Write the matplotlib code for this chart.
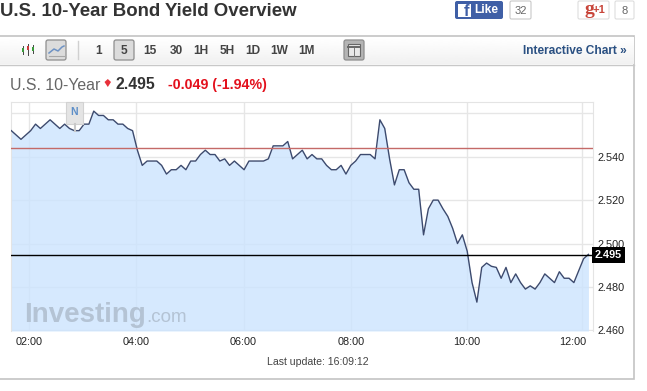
import numpy as np
import matplotlib
matplotlib.use('Agg')
import matplotlib.pyplot as plt
from matplotlib.patches import Rectangle, FancyBboxPatch, Polygon
from matplotlib.transforms import ScaledTranslation, blended_transform_factory

plt.rcParams['font.family'] = ['Liberation Sans', 'DejaVu Sans']

yields = [
    2.552,2.550,2.548,2.550,2.552,2.555,2.553,2.555,2.557,2.555,2.553,2.555,2.553,2.552,2.552,2.555,2.555,
    2.561,2.559,2.559,2.557,2.557,2.555,2.555,2.553,2.552,2.543,2.536,2.538,2.538,2.538,2.536,2.532,2.534,
    2.534,2.536,2.534,2.538,2.538,2.541,2.543,2.541,2.541,2.538,
    2.539,2.536,2.538,2.536,2.534,2.538,2.538,2.538,2.538,2.539,2.545,2.545,2.545,2.547,2.539,2.541,2.543,
    2.539,2.541,2.539,2.539,2.536,2.534,2.534,2.536,2.532,2.536,2.538,2.541,2.541,2.541,2.539,2.557,2.553,
    2.539,2.527,2.534,2.534,2.528,2.525,2.525,
    2.504,2.516,2.520,2.520,2.516,2.5125,2.507,2.500,2.504,2.4965,2.482,2.473,2.489,2.491,2.4895,2.489,
    2.484,2.489,2.482,2.486,2.482,2.479,2.4805,2.479,2.482,2.486,2.484,2.482,2.487,2.484,2.484,2.482,
    2.4875,2.493,2.495,
]
time_labels = ['02:00','04:00','06:00','08:00','10:00','12:00']
time_ticks = [3.7,25.8,47.9,70.0,94.0,117.7]
yield_ticks = [2.46,2.48,2.50,2.52,2.54,2.56]
yield_tick_labels = ['2.460','2.480','2.500','2.520','2.540','']
previous_close = 2.544
last_price = 2.4945
last_label = '2.495'
W,H = 647,391
fig = plt.figure(figsize=(W/100,H/100),dpi=100,facecolor='white')

# page chrome in pixel coordinates
bg = fig.add_axes([0,0,1,1]); bg.set_xlim(0,W); bg.set_ylim(H,0); bg.axis('off')
bg.add_patch(Rectangle((-2,36),636,342.5,fc='white',ec='#c4c4c4',lw=1.2))
grad = np.linspace(1,0.945,30).reshape(-1,1)
bg.imshow(grad,extent=(0,634,64,37),cmap='gray',vmin=0,vmax=1,aspect='auto',zorder=1)
bg.set_xlim(0,W); bg.set_ylim(H,0)
bg.plot([0,634],[64.5,64.5],color='#c8c8c8',lw=1,zorder=2)
bg.text(0,11,'U.S. 10-Year Bond Yield Overview',fontsize=13.4,fontweight='bold',color='#333333',va='center',ha='left')
# toolbar
for x,y0,y1,c in [(23,46,54,'#3a9a3a'),(28,44,55,'#c93a3a'),(33,45,53,'#3a9a3a')]:
    bg.plot([x,x],[y0,y1],color='#444444',lw=0.7,zorder=3)
    bg.add_patch(Rectangle((x-1.2,y0+2),2.4,4,fc=c,ec='none',zorder=4))
def button(x,y,w,h,fc='#dcdcdc'):
    bg.add_patch(FancyBboxPatch((x+1,y+1),w-2,h-2,boxstyle='round,pad=1,rounding_size=2',fc=fc,ec='#8e8e8e',lw=0.9,zorder=3))
button(46,40,20,20)
bg.plot([49,54,58,62,64],[53,49,51,47,46],color='#6f93c4',lw=1.1,zorder=4)
bg.plot([49,64],[56,56],color='#a8a8a8',lw=0.8,zorder=4)
bg.plot([77.5,77.5],[41,59],color='#d0d0d0',lw=1,zorder=3)
button(114,40,20,20)
for s,x in zip(['1','5','15','30','1H','5H','1D','1W','1M'],[99,124,150,176,201,227,253,279,306]):
    bg.text(x,51,s,fontsize=8.6,fontweight='bold',color='#444444',ha='center',va='center',zorder=5)
button(344,40,20,20,'#b4b4b4')
bg.add_patch(Rectangle((348,44),12,12,fc='#e8e8e8',ec='#666666',lw=0.8,zorder=4))
bg.plot([348,360],[47,47],color='#666666',lw=1.4,zorder=5)
bg.plot([354,354],[48,56],color='#777777',lw=0.7,zorder=5)
bg.text(627,51,'Interactive Chart »',fontsize=8.6,fontweight='bold',color='#2a5082',ha='right',va='center',zorder=5)
# social buttons
bg.add_patch(FancyBboxPatch((455,1),48,18,boxstyle='round,pad=0,rounding_size=2',fc='#3f5fa6',ec='none'))
bg.add_patch(Rectangle((458,4),13,13,fc='white',ec='none'))
bg.text(466,11.5,'f',fontsize=12,fontweight='bold',color='#3f5fa6',ha='center',va='center')
bg.text(474,10,'Like',fontsize=8.6,fontweight='bold',color='white',ha='left',va='center')
bg.add_patch(FancyBboxPatch((510,1),21,18,boxstyle='round,pad=0,rounding_size=1.5',fc='white',ec='#c8c8c8',lw=0.8))
bg.text(521,10.5,'32',fontsize=8,color='#666666',ha='center',va='center')
bg.add_patch(FancyBboxPatch((578,1),31,18,boxstyle='round,pad=0,rounding_size=1.5',fc='white',ec='#dddddd',lw=0.8))
bg.text(589,10,'g',fontsize=14,fontweight='bold',color='#c8453a',ha='center',va='center',family='Liberation Serif')
bg.text(599,10,'+1',fontsize=8,fontweight='bold',color='#c8453a',ha='center',va='center')
bg.add_patch(FancyBboxPatch((615,1),19,18,boxstyle='round,pad=0,rounding_size=1.5',fc='white',ec='#dddddd',lw=0.8))
bg.text(625,11,'8',fontsize=8,color='#666666',ha='center',va='center')
# quote line
bg.text(10,85,'U.S. 10-Year',fontsize=11.4,color='#666666',ha='left',va='center')
bg.add_patch(Polygon([[104.5,82],[107.8,79],[111,82],[107.8,87]],fc='#e8303a',ec='none'))
bg.text(115,84.5,'2.495',fontsize=11.4,fontweight='bold',color='#333333',ha='left',va='center')
bg.text(168,85,'-0.049 (-1.94%)',fontsize=10.2,fontweight='bold',color='#e3101c',ha='left',va='center')
bg.text(318,362,'Last update: 16:09:12',fontsize=7.6,color='#444444',ha='center',va='center')

# chart
L,R,T,B = 11,593,102,331
ax = fig.add_axes([L/W,(H-B)/H,(R-L)/W,(B-T)/H])
ax.patch.set_alpha(0)
x = np.arange(len(yields))
ax.set_xlim(-0.06,(R-L)/4.85-0.06)
ax.set_ylim(2.4597,2.5652)
ax.set_axisbelow(True)
ax.fill_between(x,yields,2.4597,color='#cce4fe',alpha=0.8,lw=0,zorder=1)
ax.plot(x,yields,color='#3c4a6e',lw=1,zorder=3)
ax.set_xticks(time_ticks,time_labels)
ax.set_yticks(yield_ticks,yield_tick_labels)
ax.yaxis.tick_right()
ax.grid(True,color='#e6e6e6',lw=1)
ax.tick_params(axis='both',length=0,labelsize=7.8,labelcolor='#222222')
ax.tick_params(axis='y',pad=3.5)
ax.tick_params(axis='x',pad=4.2)
ax.spines['bottom'].set_visible(False)
for s in ['left','top','right']: ax.spines[s].set_color('#e4e4e4')
last = ax.get_xticklabels()[-1]; last.set_ha('right')
last.set_transform(last.get_transform()+ScaledTranslation(4/100,0,fig.dpi_scale_trans))
ax.axhline(previous_close,color='#c46a68',lw=1,zorder=4)
ax.axhline(last_price,color='black',lw=1,zorder=4)
tr = blended_transform_factory(ax.transAxes,ax.transData)
ax.text(1.0035,last_price,last_label,transform=tr,fontsize=7.8,fontweight='bold',color='white',ha='left',va='center',
        clip_on=False,zorder=6,bbox=dict(boxstyle='square,pad=0.28',fc='black',ec='none'))

# overlay
fg = fig.add_axes([0,0,1,1]); fg.set_xlim(0,W); fg.set_ylim(H,0); fg.axis('off')
fg.plot([75,75],[124,131],color='#c8c8c8',lw=1.5)
fg.add_patch(Rectangle((66,102),17,22,fc='#e4e4e4',ec='#d2d2d2',lw=0.8))
fg.text(74.5,112,'N',fontsize=7.6,fontweight='bold',color='#5e8fc8',ha='center',va='center')
fg.text(24,315,'Investing',fontsize=20,fontweight='bold',color='#b4c3d4',ha='left',va='center')
fg.text(146,317,'.com',fontsize=13.5,color='#b4c3d4',ha='left',va='center')
fig.savefig('out.png',dpi=100)
